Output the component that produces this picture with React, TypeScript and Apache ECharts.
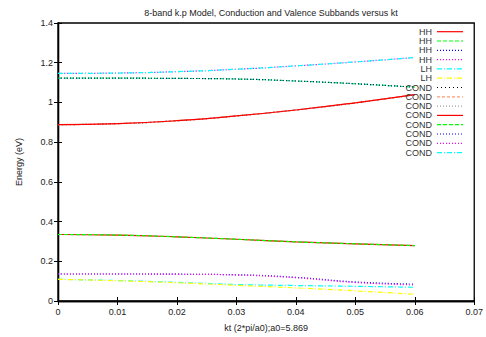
import React, { useEffect, useRef } from "react";
import * as echarts from "echarts";

const kt = [0, 0.01, 0.02, 0.03, 0.04, 0.05, 0.06];
const xTicks = [0, 0.01, 0.02, 0.03, 0.04, 0.05, 0.06, 0.07];

const hh1 = [0.335, 0.332, 0.323, 0.311, 0.298, 0.288, 0.279];
const hh2 = [0.335, 0.332, 0.323, 0.311, 0.298, 0.288, 0.279];
const hh3 = [0.136, 0.136, 0.135, 0.132, 0.119, 0.096, 0.085];
const hh4 = [0.136, 0.136, 0.135, 0.131, 0.117, 0.093, 0.081];
const lh1 = [0.109, 0.103, 0.094, 0.083, 0.078, 0.074, 0.069];
const lh2 = [0.109, 0.102, 0.092, 0.079, 0.066, 0.051, 0.034];
const condLow = [0.888, 0.893, 0.908, 0.932, 0.962, 0.998, 1.039];
const condMid = [1.122, 1.122, 1.121, 1.118, 1.108, 1.094, 1.077];
const condTop = [1.146, 1.148, 1.155, 1.167, 1.184, 1.204, 1.226];

const seriesNames = ["HH", "HH", "HH", "HH", "LH", "LH", "COND", "COND", "COND", "COND", "COND", "COND", "COND", "COND"];
const seriesValues = [hh1, hh2, hh3, hh4, lh1, lh2, condLow, condLow, condLow, condLow, condMid, condMid, condTop, condTop];
const seriesColors = ["#ff0000", "#00ff00", "#0000ff", "#ff00ff", "#00ffff", "#ffff00", "#000000", "#ff9a70", "#a0a0a0", "#ff0000", "#00ff00", "#0000ff", "#ff00ff", "#00ffff"];
const seriesDash: (number[] | string)[] = [
  "solid", [4, 2], [1, 2], [1, 2], [5, 2, 1, 2], [5, 2, 1, 2],
  [1, 3], [3, 2], [1, 2], "solid", [4, 2], [1, 2], [1, 2], [5, 2, 1, 2],
];

export default function App() {
  const ref = useRef<HTMLDivElement>(null);
  useEffect(() => {
    if (!ref.current) return;
    const chart = echarts.init(ref.current, undefined, { renderer: "svg" });
    const font = "Liberation Sans, Arial, Helvetica, sans-serif";
    const legendGraphics: any[] = [];
    seriesNames.forEach((n, i) => {
      const y = 31.7 + 9.3 * i;
      legendGraphics.push({
        type: "text",
        x: 432,
        y,
        style: { text: n, fill: "#333", font: `9px ${font}`, lineHeight: 9, textAlign: "right", textVerticalAlign: "middle" },
        z: 100,
      });
      legendGraphics.push({
        type: "line",
        shape: { x1: 437, y1: y, x2: 463, y2: y },
        style: { stroke: seriesColors[i], lineWidth: 1.2, lineDash: seriesDash[i] },
        z: 100,
      });
    });
    const tickAxis = {
      type: "value",
      min: 0,
      max: 0.07,
      interval: 0.01,
      axisLine: { lineStyle: { color: "#000", width: 1.3 } },
      axisTick: { inside: true, length: 4, lineStyle: { color: "#000" } },
      splitLine: { show: false },
    };
    chart.setOption({
      animation: false,
      backgroundColor: "#fff",
      title: {
        text: "8-band k.p Model, Conduction and Valence Subbands versus kt",
        left: 266,
        top: 3,
        textAlign: "center",
        textStyle: { fontSize: 9, fontWeight: "normal", color: "#222", fontFamily: font },
      },
      grid: { left: 58, right: 11, top: 23, bottom: 35, show: true, borderColor: "#000", borderWidth: 1.3 },
      xAxis: [
        {
          ...tickAxis,
          position: "bottom",
          name: "kt (2*pi/a0);a0=5.869",
          nameLocation: "middle",
          nameGap: 22,
          nameTextStyle: { fontSize: 9, color: "#222", fontFamily: font },
          axisLabel: {
            fontSize: 9,
            color: "#222",
            fontFamily: font,
            margin: 6,
            customValues: xTicks,
            formatter: (v: number) => String(Math.round(v * 100) / 100),
          },
        },
        { ...tickAxis, position: "top", axisLabel: { show: false } },
      ],
      yAxis: [
        {
          type: "value",
          min: 0,
          max: 1.4,
          interval: 0.2,
          position: "left",
          name: "Energy (eV)",
          nameLocation: "middle",
          nameGap: 35,
          nameTextStyle: { fontSize: 9, color: "#222", fontFamily: font },
          axisLine: { lineStyle: { color: "#000", width: 1.3 } },
          axisTick: { inside: true, length: 4, lineStyle: { color: "#000" } },
          splitLine: { show: false },
          axisLabel: {
            fontSize: 9,
            color: "#222",
            fontFamily: font,
            margin: 5,
            formatter: (v: number) => String(Math.round(v * 10) / 10),
          },
        },
        {
          type: "value",
          min: 0,
          max: 1.4,
          interval: 0.2,
          position: "right",
          axisLine: { lineStyle: { color: "#000", width: 1.3 } },
          axisTick: { inside: true, length: 4, lineStyle: { color: "#000" } },
          splitLine: { show: false },
          axisLabel: { show: false },
        },
      ],
      series: seriesNames.map((n, i) => ({
        name: n,
        type: "line",
        smooth: true,
        showSymbol: false,
        symbol: "none",
        xAxisIndex: 0,
        yAxisIndex: 0,
        data: kt.map((k, j) => [k, seriesValues[i][j]]),
        lineStyle: { color: seriesColors[i], width: 1.2, type: seriesDash[i] },
        itemStyle: { color: seriesColors[i] },
      })),
      graphic: legendGraphics,
    });
    return () => chart.dispose();
  }, []);
  return <div ref={ref} style={{ position: "fixed", left: 0, top: 0, width: 486, height: 337 }} />;
}
